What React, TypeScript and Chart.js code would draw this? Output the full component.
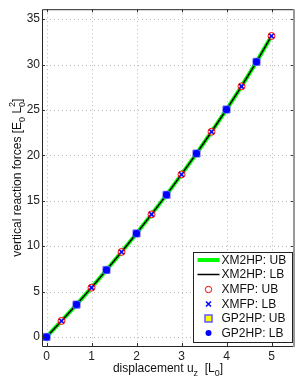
import React, { useEffect, useRef } from "react";
import { Chart, registerables } from "chart.js";

Chart.register(...registerables);

// ---- data ----
const lineDisp = [0, 0.333, 0.667, 1, 1.333, 1.667, 2, 2.333, 2.667, 3, 3.333, 3.667, 4, 4.333, 4.667, 5];
const xm2hpUB = [0, 1.76, 3.56, 5.43, 7.38, 9.36, 11.4, 13.5, 15.65, 17.9, 20.2, 22.6, 25.05, 27.6, 30.3, 33.15];
const xm2hpLB = [0, 1.76, 3.56, 5.43, 7.38, 9.36, 11.4, 13.5, 15.65, 17.9, 20.2, 22.6, 25.05, 27.6, 30.3, 33.15];

const xmfpDisp = [0.333, 1, 1.667, 2.333, 3, 3.667, 4.333, 5];
const xmfpUB = [1.76, 5.43, 9.36, 13.5, 17.9, 22.6, 27.6, 33.15];
const xmfpLB = [1.76, 5.43, 9.36, 13.5, 17.9, 22.6, 27.6, 33.15];

const gpDisp = [0, 0.667, 1.333, 2, 2.667, 3.333, 4, 4.667];
const gpUB = [0, 3.56, 7.38, 11.4, 15.65, 20.2, 25.05, 30.3];
const gpLB = [0, 3.56, 7.38, 11.4, 15.65, 20.2, 25.05, 30.3];

const xTicks = [0, 1, 2, 3, 4, 5];
const yTicks = [0, 5, 10, 15, 20, 25, 30, 35];

const legendLabels = ["XM2HP: UB", "XM2HP: LB", "XMFP: UB", "XMFP: LB", "GP2HP: UB", "GP2HP: LB"];

const FONT = "'Liberation Sans', Arial, sans-serif";

const pts = (xs: number[], ys: number[]) => xs.map((x, i) => ({ x, y: ys[i] }));

const gridPlugin = {
  id: "dotgrid",
  beforeDatasetsDraw(chart: any) {
    const ctx = chart.ctx as CanvasRenderingContext2D;
    const { left, right, top, bottom } = chart.chartArea;
    const xs = chart.scales.x;
    const ys = chart.scales.y;
    ctx.save();
    ctx.strokeStyle = "#b8b8b8";
    ctx.lineWidth = 1;
    ctx.setLineDash([1, 3]);
    ctx.beginPath();
    xTicks.forEach((v) => {
      const px = Math.round(xs.getPixelForValue(v)) + 0.5;
      ctx.moveTo(px, top);
      ctx.lineTo(px, bottom);
    });
    yTicks.forEach((v) => {
      const py = Math.round(ys.getPixelForValue(v)) + 0.5;
      ctx.moveTo(left, py);
      ctx.lineTo(right, py);
    });
    ctx.stroke();
    ctx.restore();
  },
};

const decorPlugin = {
  id: "decor",
  afterDraw(chart: any) {
    const ctx = chart.ctx as CanvasRenderingContext2D;
    const { left, right, top, bottom } = chart.chartArea;
    const xs = chart.scales.x;
    const ys = chart.scales.y;
    ctx.save();
    // inner tick marks
    ctx.strokeStyle = "#333";
    ctx.lineWidth = 1;
    ctx.beginPath();
    xTicks.forEach((v) => {
      const px = Math.round(xs.getPixelForValue(v)) + 0.5;
      ctx.moveTo(px, bottom);
      ctx.lineTo(px, bottom - 3);
      ctx.moveTo(px, top);
      ctx.lineTo(px, top + 3);
    });
    yTicks.forEach((v) => {
      const py = Math.round(ys.getPixelForValue(v)) + 0.5;
      ctx.moveTo(left, py);
      ctx.lineTo(left + 3, py);
      ctx.moveTo(right, py);
      ctx.lineTo(right - 3, py);
    });
    ctx.stroke();
    // box
    ctx.strokeStyle = "#262626";
    ctx.lineWidth = 1;
    ctx.beginPath();
    ctx.moveTo(right, top + 0.5);
    ctx.lineTo(left + 0.5, top + 0.5);
    ctx.lineTo(left + 0.5, bottom + 0.5);
    ctx.lineTo(right, bottom + 0.5);
    ctx.stroke();
    ctx.strokeStyle = "#999";
    ctx.lineWidth = 2;
    ctx.beginPath();
    ctx.moveTo(right, top);
    ctx.lineTo(right, bottom + 1);
    ctx.stroke();

    // legend
    const lx = 193.5, ly = 252.5, lw = 99, lh = 90;
    ctx.fillStyle = "#fff";
    ctx.fillRect(lx, ly, lw, lh);
    ctx.strokeStyle = "#222";
    ctx.lineWidth = 1;
    ctx.strokeRect(lx, ly, lw, lh);
    const rows = [260, 274.5, 289.5, 304, 318.5, 333];
    ctx.font = `12px ${FONT}`;
    ctx.textBaseline = "middle";
    ctx.textAlign = "left";
    rows.forEach((ry, i) => {
      const mx = 208.5;
      if (i === 0) {
        ctx.strokeStyle = "#00ff00";
        ctx.lineWidth = 4;
        ctx.beginPath();
        ctx.moveTo(197.5, ry);
        ctx.lineTo(219.5, ry);
        ctx.stroke();
      } else if (i === 1) {
        ctx.strokeStyle = "#000";
        ctx.lineWidth = 1.5;
        ctx.beginPath();
        ctx.moveTo(197.5, ry);
        ctx.lineTo(219.5, ry);
        ctx.stroke();
      } else if (i === 2) {
        ctx.strokeStyle = "#ff0000";
        ctx.lineWidth = 1;
        ctx.beginPath();
        ctx.arc(mx, ry, 3.2, 0, Math.PI * 2);
        ctx.stroke();
      } else if (i === 3) {
        ctx.strokeStyle = "#0000ff";
        ctx.lineWidth = 1.5;
        ctx.beginPath();
        ctx.moveTo(mx - 2.5, ry - 2.5);
        ctx.lineTo(mx + 2.5, ry + 2.5);
        ctx.moveTo(mx + 2.5, ry - 2.5);
        ctx.lineTo(mx - 2.5, ry + 2.5);
        ctx.stroke();
      } else if (i === 4) {
        ctx.fillStyle = "#ffff00";
        ctx.fillRect(mx - 3.5, ry - 3.5, 7, 7);
        ctx.strokeStyle = "#5a5aff";
        ctx.lineWidth = 1.5;
        ctx.strokeRect(mx - 3.5, ry - 3.5, 7, 7);
      } else {
        ctx.fillStyle = "#0000ff";
        ctx.beginPath();
        ctx.arc(mx, ry, 3, 0, Math.PI * 2);
        ctx.fill();
      }
      ctx.fillStyle = "#111";
      ctx.fillText(legendLabels[i], 221.5, ry + 0.5);
    });

    // x axis title with subscripts
    const drawRich = (parts: { t: string; dy: number; size: number }[], cx: number, by: number) => {
      let total = 0;
      parts.forEach((p) => {
        ctx.font = `${p.size}px ${FONT}`;
        total += ctx.measureText(p.t).width;
      });
      let x = cx - total / 2;
      ctx.textAlign = "left";
      ctx.textBaseline = "alphabetic";
      ctx.fillStyle = "#111";
      parts.forEach((p) => {
        ctx.font = `${p.size}px ${FONT}`;
        ctx.fillText(p.t, x, by + p.dy);
        x += ctx.measureText(p.t).width;
      });
    };
    const midX = (left + right) / 2;
    drawRich(
      [
        { t: "displacement u", dy: 0, size: 12 },
        { t: "z", dy: 4, size: 9 },
        { t: "  [L", dy: 0, size: 12 },
        { t: "0", dy: 4, size: 9 },
        { t: "]", dy: 0, size: 12 },
      ],
      midX,
      372
    );
    // y axis title rotated
    ctx.save();
    ctx.translate(21, (top + bottom) / 2);
    ctx.rotate(-Math.PI / 2);
    ctx.font = `12px ${FONT}`;
    const a = "vertical reaction forces [E";
    const b = " L";
    const c = "]";
    ctx.font = `9px ${FONT}`;
    const w0 = ctx.measureText("0").width;
    ctx.font = `12px ${FONT}`;
    const total = ctx.measureText(a).width + w0 + ctx.measureText(b).width + w0 + ctx.measureText(c).width;
    let x = -total / 2;
    ctx.textAlign = "left";
    ctx.textBaseline = "alphabetic";
    ctx.fillStyle = "#111";
    ctx.fillText(a, x, 0);
    x += ctx.measureText(a).width;
    ctx.font = `9px ${FONT}`;
    ctx.fillText("0", x, 4);
    x += w0;
    ctx.font = `12px ${FONT}`;
    ctx.fillText(b, x, 0);
    x += ctx.measureText(b).width;
    ctx.font = `9px ${FONT}`;
    ctx.fillText("0", x, 4);
    ctx.fillText("2", x, -6);
    x += w0;
    ctx.font = `12px ${FONT}`;
    ctx.fillText(c, x, 0);
    ctx.restore();

    ctx.restore();
  },
};

export default function App() {
  const ref = useRef<HTMLCanvasElement | null>(null);
  useEffect(() => {
    if (!ref.current) return;
    const chart = new Chart(ref.current, {
      type: "line",
      data: {
        datasets: [
          {
            label: legendLabels[0],
            data: pts(lineDisp, xm2hpUB),
            borderColor: "#00ff00",
            borderWidth: 4,
            pointRadius: 0,
            fill: false,
            order: 6,
          },
          {
            label: legendLabels[1],
            data: pts(lineDisp, xm2hpLB),
            borderColor: "#000000",
            borderWidth: 1.5,
            pointRadius: 0,
            fill: false,
            order: 5,
          },
          {
            label: legendLabels[2],
            data: pts(xmfpDisp, xmfpUB),
            showLine: false,
            pointStyle: "circle",
            pointRadius: 3.5,
            pointBorderColor: "#ff0000",
            pointBackgroundColor: "rgba(255,255,255,0.6)",
            pointBorderWidth: 1,
            order: 4,
          },
          {
            label: legendLabels[3],
            data: pts(xmfpDisp, xmfpLB),
            showLine: false,
            pointStyle: "crossRot",
            pointRadius: 3.2,
            pointBorderColor: "#0000ff",
            pointBorderWidth: 1.5,
            order: 3,
          },
          {
            label: legendLabels[4],
            data: pts(gpDisp, gpUB),
            showLine: false,
            pointStyle: "rect",
            pointRadius: 5,
            pointBorderColor: "#6464ff",
            pointBackgroundColor: "#3c3cff",
            pointBorderWidth: 1,
            order: 2,
          },
          {
            label: legendLabels[5],
            data: pts(gpDisp, gpLB),
            showLine: false,
            pointStyle: "circle",
            pointRadius: 3.5,
            pointBorderColor: "#0000ff",
            pointBackgroundColor: "#0000ff",
            pointBorderWidth: 0,
            order: 1,
          },
        ],
      },
      options: {
        responsive: false,
        devicePixelRatio: 1,
        animation: false,
        layout: { padding: { top: 8, right: 5, left: 0, bottom: 0 } },
        plugins: { legend: { display: false }, tooltip: { enabled: false } },
        elements: { line: { tension: 0 } },
        scales: {
          x: {
            type: "linear",
            min: -0.1,
            max: 5.5,
            afterBuildTicks: (s: any) => {
              s.ticks = xTicks.map((v) => ({ value: v }));
            },
            afterFit: (s: any) => {
              s.height = 36;
            },
            ticks: {
              color: "#222",
              font: { family: FONT, size: 12 },
              padding: 3,
              maxRotation: 0,
              autoSkip: false,
            },
            grid: { display: false, drawTicks: false },
            border: { display: false },
          },
          y: {
            type: "linear",
            min: -1,
            max: 36.1,
            afterBuildTicks: (s: any) => {
              s.ticks = yTicks.map((v) => ({ value: v }));
            },
            afterFit: (s: any) => {
              s.width = 42;
            },
            ticks: {
              color: "#222",
              font: { family: FONT, size: 12 },
              padding: 2,
              autoSkip: false,
            },
            grid: { display: false, drawTicks: false },
            border: { display: false },
          },
        },
      },
      plugins: [gridPlugin, decorPlugin],
    } as any);
    return () => chart.destroy();
  }, []);
  return (
    <div style={{ position: "fixed", left: 0, top: 0, width: 300, height: 382, background: "#fff" }}>
      <canvas ref={ref} width={300} height={382} style={{ width: 300, height: 382, display: "block" }} />
    </div>
  );
}
